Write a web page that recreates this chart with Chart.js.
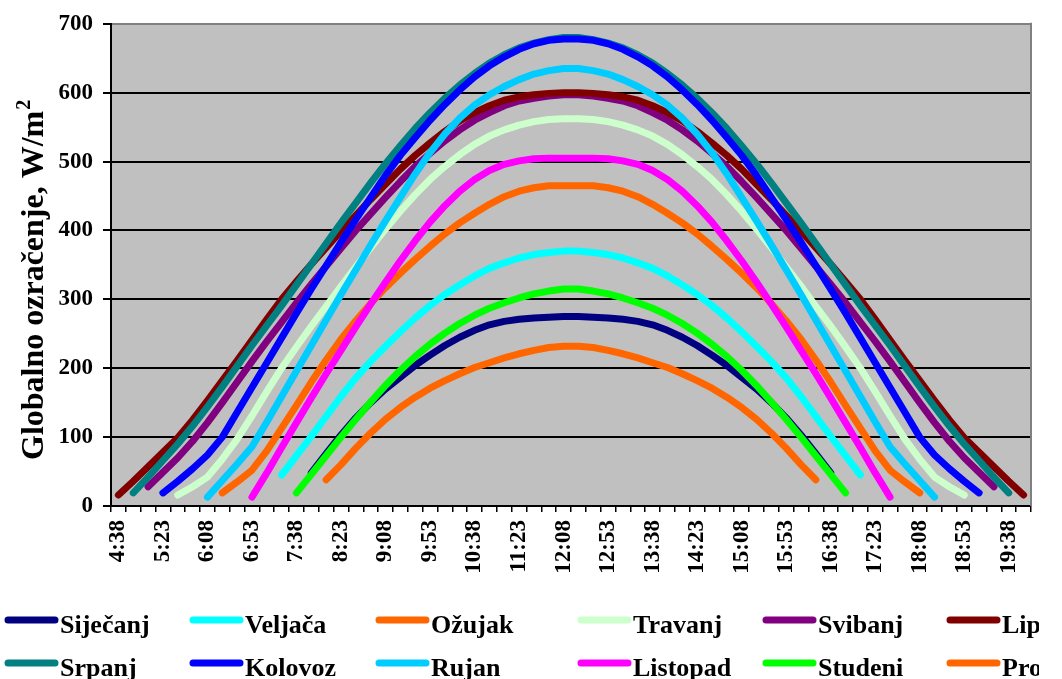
<!DOCTYPE html>
<html lang="hr">
<head>
<meta charset="utf-8">
<title>Globalno ozračenje</title>
<script src="https://cdn.jsdelivr.net/npm/chart.js@4.4.0/dist/chart.umd.min.js"></script>
<style>
  html, body { margin: 0; padding: 0; background: #ffffff; }
  #wrap { width: 1062px; height: 679px; overflow: hidden; }
  canvas { display: block; }
</style>
</head>
<body>
<div id="wrap"><canvas id="c" width="1062" height="679"></canvas></div>
<script>
// Time of day, 15-minute steps
const times = [
  '4:38','4:53','5:08','5:23','5:38','5:53','6:08','6:23','6:38','6:53',
  '7:08','7:23','7:38','7:53','8:08','8:23','8:38','8:53','9:08','9:23',
  '9:38','9:53','10:08','10:23','10:38','10:53','11:08','11:23','11:38','11:53',
  '12:08','12:23','12:38','12:53','13:08','13:23','13:38','13:53','14:08','14:23',
  '14:38','14:53','15:08','15:23','15:38','15:53','16:08','16:23','16:38','16:53',
  '17:08','17:23','17:38','17:53','18:08','18:23','18:38','18:53','19:08','19:23',
  '19:38','19:53'
];

// Global irradiance per month, W/m2
const sijecanj = [null,null,null,null,null,null,null,null,null,null,null,null,null,
  48,76,103,128,150,170,187,204,219,233,245,255,263,268,271,273,274,275,
  275,274,273,271,268,263,255,245,233,219,204,187,170,150,128,103,76,48,
  null,null,null,null,null,null,null,null,null,null,null,null,null];
const veljaca = [null,null,null,null,null,null,null,null,null,null,null,
  45,73,101,130,159,186,210,232,253,273,291,307,321,334,345,353,360,365,368,370,
  370,368,365,360,353,345,334,321,307,291,273,253,232,210,186,159,130,101,73,45,
  null,null,null,null,null,null,null,null,null,null,null];
const ozujak = [null,null,null,null,null,null,null,
  19,35,52,80,113,146,180,212,242,269,294,317,338,358,377,395,411,425,438,449,457,462,465,465,
  465,465,462,457,449,438,425,411,395,377,358,338,317,294,269,242,212,180,146,113,80,52,35,19,
  null,null,null,null,null,null,null];
const travanj = [null,null,null,null,
  16,28,42,68,97,131,166,200,231,261,290,319,347,375,402,428,452,474,493,510,525,537,546,553,558,561,562,
  562,561,558,553,546,537,525,510,493,474,452,428,402,375,347,319,290,261,231,200,166,131,97,68,42,28,16,
  null,null,null,null];
const svibanj = [null,null,
  28,49,70,94,121,150,180,210,239,267,295,322,348,374,400,424,448,471,493,512,530,546,560,571,581,588,592,595,597,
  597,595,592,588,581,571,560,546,530,512,493,471,448,424,400,374,348,322,295,267,239,210,180,150,121,94,70,49,28,
  null,null];
const lipanj = [
  16,36,57,78,99,125,153,182,211,241,271,300,326,351,375,399,422,445,467,489,509,527,544,559,571,581,589,594,597,599,600,
  600,599,597,594,589,581,571,559,544,527,509,489,467,445,422,399,375,351,326,300,271,241,211,182,153,125,99,78,57,36,16];
const srpanj = [null,
  19,42,66,90,116,144,173,203,233,262,291,321,351,381,411,440,469,497,523,548,571,592,611,628,643,655,665,672,677,680,
  680,677,672,665,655,643,628,611,592,571,548,523,497,469,440,411,381,351,321,291,262,233,203,173,144,116,90,66,42,19,
  null];
const kolovoz = [null,null,null,
  19,36,54,74,100,136,172,208,244,280,315,349,383,416,448,480,509,535,560,583,604,623,639,652,663,671,676,678,
  678,676,671,663,652,639,623,604,583,560,535,509,480,448,416,383,349,315,280,244,208,172,136,100,74,54,36,19,
  null,null,null];
const rujan = [null,null,null,null,null,null,
  13,37,61,86,122,159,196,233,270,307,343,379,414,448,482,513,540,563,582,597,609,619,627,632,635,
  635,632,627,619,609,597,582,563,540,513,482,448,414,379,343,307,270,233,196,159,122,86,61,37,13,
  null,null,null,null,null,null];
const listopad = [null,null,null,null,null,null,null,null,null,
  13,48,85,121,157,192,226,260,293,325,356,385,412,436,457,474,487,496,501,504,505,505,
  505,505,504,501,496,487,474,457,436,412,385,356,325,293,260,226,192,157,121,85,48,13,
  null,null,null,null,null,null,null,null,null];
const studeni = [null,null,null,null,null,null,null,null,null,null,null,null,
  19,46,73,100,126,151,175,197,217,235,251,265,277,287,295,302,308,312,315,
  315,312,308,302,295,287,277,265,251,235,217,197,175,151,126,100,73,46,19,
  null,null,null,null,null,null,null,null,null,null,null,null];
const prosinac = [null,null,null,null,null,null,null,null,null,null,null,null,null,null,
  38,60,84,106,126,143,158,171,182,192,201,208,215,221,226,230,232,
  232,230,226,221,215,208,201,192,182,171,158,143,126,106,84,60,38,
  null,null,null,null,null,null,null,null,null,null,null,null,null,null];

const months = ['Siječanj','Veljača','Ožujak','Travanj','Svibanj','Lipanj',
                'Srpanj','Kolovoz','Rujan','Listopad','Studeni','Prosinac'];
const series = [sijecanj, veljaca, ozujak, travanj, svibanj, lipanj,
                srpanj, kolovoz, rujan, listopad, studeni, prosinac];
const colors = ['#000080','#00FFFF','#FF6600','#CCFFCC','#800080','#800000',
                '#008080','#0000FF','#00CCFF','#FF00FF','#00FF00','#FF6600'];
const yTicks = [0, 100, 200, 300, 400, 500, 600, 700];

const SERIF = '"Liberation Serif", "Times New Roman", serif';

const datasets = series.map((values, i) => ({
  label: months[i],
  data: values,
  borderColor: colors[i],
  backgroundColor: colors[i],
  borderWidth: 7,
  borderCapStyle: 'round',
  borderJoinStyle: 'round',
  pointRadius: 0,
  fill: false,
  tension: 0,
  spanGaps: false,
  // later months are painted over earlier ones
  order: series.length - i
}));

// grey plot area, frame, axis title and the legend under the chart
const decor = {
  id: 'decor',
  beforeDraw(chart) {
    const { ctx, chartArea: a } = chart;
    ctx.save();
    ctx.fillStyle = '#ffffff';
    ctx.fillRect(0, 0, chart.width, chart.height);
    ctx.fillStyle = '#C0C0C0';
    ctx.fillRect(a.left, a.top, a.right - a.left, a.bottom - a.top);
    ctx.restore();
  },
  afterDraw(chart) {
    const { ctx, chartArea: a } = chart;
    ctx.save();
    // right edge of the plot frame
    ctx.strokeStyle = '#808080';
    ctx.lineWidth = 2;
    ctx.beginPath();
    ctx.moveTo(a.right, a.top - 1);
    ctx.lineTo(a.right, a.bottom);
    ctx.stroke();

    // y axis title with superscript
    ctx.fillStyle = '#000';
    ctx.translate(43, 460);
    ctx.rotate(-Math.PI / 2);
    ctx.font = 'bold 32px ' + SERIF;
    ctx.textAlign = 'left';
    ctx.textBaseline = 'alphabetic';
    const main = 'Globalno ozračenje, W/m';
    ctx.fillText(main, 0, 0);
    const w = ctx.measureText(main).width;
    ctx.font = 'bold 20px ' + SERIF;
    ctx.fillText('2', w + 1, -13);
    ctx.restore();

    // legend: two rows of six, cut off at the frame edge
    const colX = [4, 189, 375, 577, 762, 946];
    const rowY = [620, 663];
    ctx.save();
    ctx.beginPath();
    ctx.rect(0, 590, 1039, 89);
    ctx.clip();
    chart.data.datasets.forEach((ds, k) => {
      const x = colX[k % 6];
      const y = rowY[Math.floor(k / 6)];
      ctx.strokeStyle = ds.borderColor;
      ctx.lineWidth = 7;
      ctx.lineCap = 'round';
      ctx.beginPath();
      ctx.moveTo(x + 4, y);
      ctx.lineTo(x + 51, y);
      ctx.stroke();
      ctx.fillStyle = '#000';
      ctx.font = 'bold 26px ' + SERIF;
      ctx.textAlign = 'left';
      ctx.textBaseline = 'alphabetic';
      ctx.fillText(ds.label, x + 56, y + 13);
    });
    ctx.restore();
  }
};

new Chart(document.getElementById('c'), {
  type: 'line',
  data: { labels: times, datasets },
  options: {
    responsive: false,
    animation: false,
    events: [],
    layout: { padding: { left: 0, right: 31, top: 23, bottom: 0 } },
    plugins: {
      legend: { display: false },
      tooltip: { enabled: false }
    },
    scales: {
      x: {
        type: 'category',
        offset: true,
        grid: {
          offset: true,
          drawOnChartArea: false,
          drawTicks: true,
          tickLength: 6,
          color: '#000',
          lineWidth: 1.5
        },
        border: { display: true, color: '#000', width: 2 },
        ticks: {
          autoSkip: false,
          minRotation: 90,
          maxRotation: 90,
          padding: 8,
          color: '#000',
          font: { family: SERIF, size: 23, weight: 'bold' },
          callback: (v, i) => (i % 3 === 0 ? times[i] : '')
        },
        afterFit: s => { s.height = 173; }
      },
      y: {
        min: yTicks[0],
        max: yTicks[yTicks.length - 1],
        afterBuildTicks: s => { s.ticks = yTicks.map(v => ({ value: v })); },
        grid: {
          color: c => (c.tick && c.tick.value === 700 ? '#808080' : '#000'),
          tickColor: '#000',
          lineWidth: 2,
          tickLength: 8
        },
        border: { display: true, color: '#000', width: 2 },
        ticks: {
          padding: 10,
          color: '#000',
          font: { family: SERIF, size: 23, weight: 'bold' }
        },
        afterFit: s => { s.width = 111; }
      }
    }
  },
  plugins: [decor]
});
</script>
</body>
</html>
